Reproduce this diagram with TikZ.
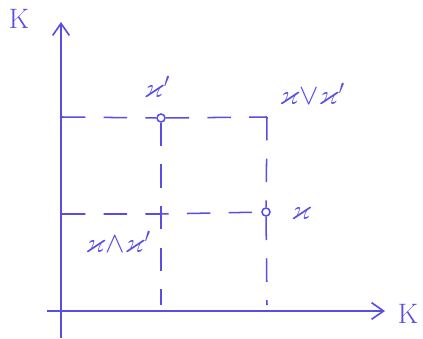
\documentclass[tikz,border=0pt]{standalone}
\usepackage{amsmath,amssymb}
\usetikzlibrary{arrows.meta, positioning}
\definecolor{ink}{RGB}{88,78,228}

\begin{document}
\begin{tikzpicture}[x=0.03cm, y=-0.03cm, ink, line width=1.3pt]
      \useasboundingbox (0,0) rectangle (423,338);
      \tikzset{
        axis/.style={-{Straight Barb[length=3.6mm, width=5mm]}, line width=1.4pt},
        guide/.style={dash pattern=on 0.7cm off 0.55cm, line width=1.3pt},
        pt/.style={circle, draw, line width=1.3pt, inner sep=0pt, minimum size=0.24cm},
        lbl/.style={font=\fontsize{24}{28}\selectfont, text=ink}
      }

      % Axes
      \coordinate (ybot) at (61,338);
      \coordinate (ytip) at (61,22);
      \coordinate (xbeg) at (47,311);
      \coordinate (xtip) at (385,311);
      \draw[axis] (ybot) -- (ytip);
      \draw[axis] (xbeg) -- (xtip);
      \node[lbl] (ky) at (19,19) {K};
      \node[lbl] (kx) at (408,314) {K};

      % Points
      \node[pt] (kp) at (161,118) {};
      \node[pt] (k) at (266,212) {};
      \coordinate (join) at (267,117);
      \coordinate (meet) at (161,214);
      \coordinate (ytop) at (62,117);
      \coordinate (ymid) at (62,214);
      \coordinate (xmeet) at (161,305);
      \coordinate (xjoin) at (267,305);

      % Dashed guides
      \draw[guide] (ytop) -- (kp) -- (join);
      \draw[guide] (join) -- (k) -- (xjoin);
      \draw[guide] (kp) -- (meet) -- (xmeet);
      \draw[guide] (ymid) -- (meet) -- (k);

      % Labels
      \node[lbl] (lkp) at (157,87) {$\varkappa'$};
      \node[lbl] (ljoin) at (312,94) {$\varkappa{\vee}\varkappa'$};
      \node[lbl] (lmeet) at (118,242) {$\varkappa{\wedge}\varkappa'$};
      \node[lbl] (lk) at (301,213) {$\varkappa$};
    \end{tikzpicture}
\end{document}
